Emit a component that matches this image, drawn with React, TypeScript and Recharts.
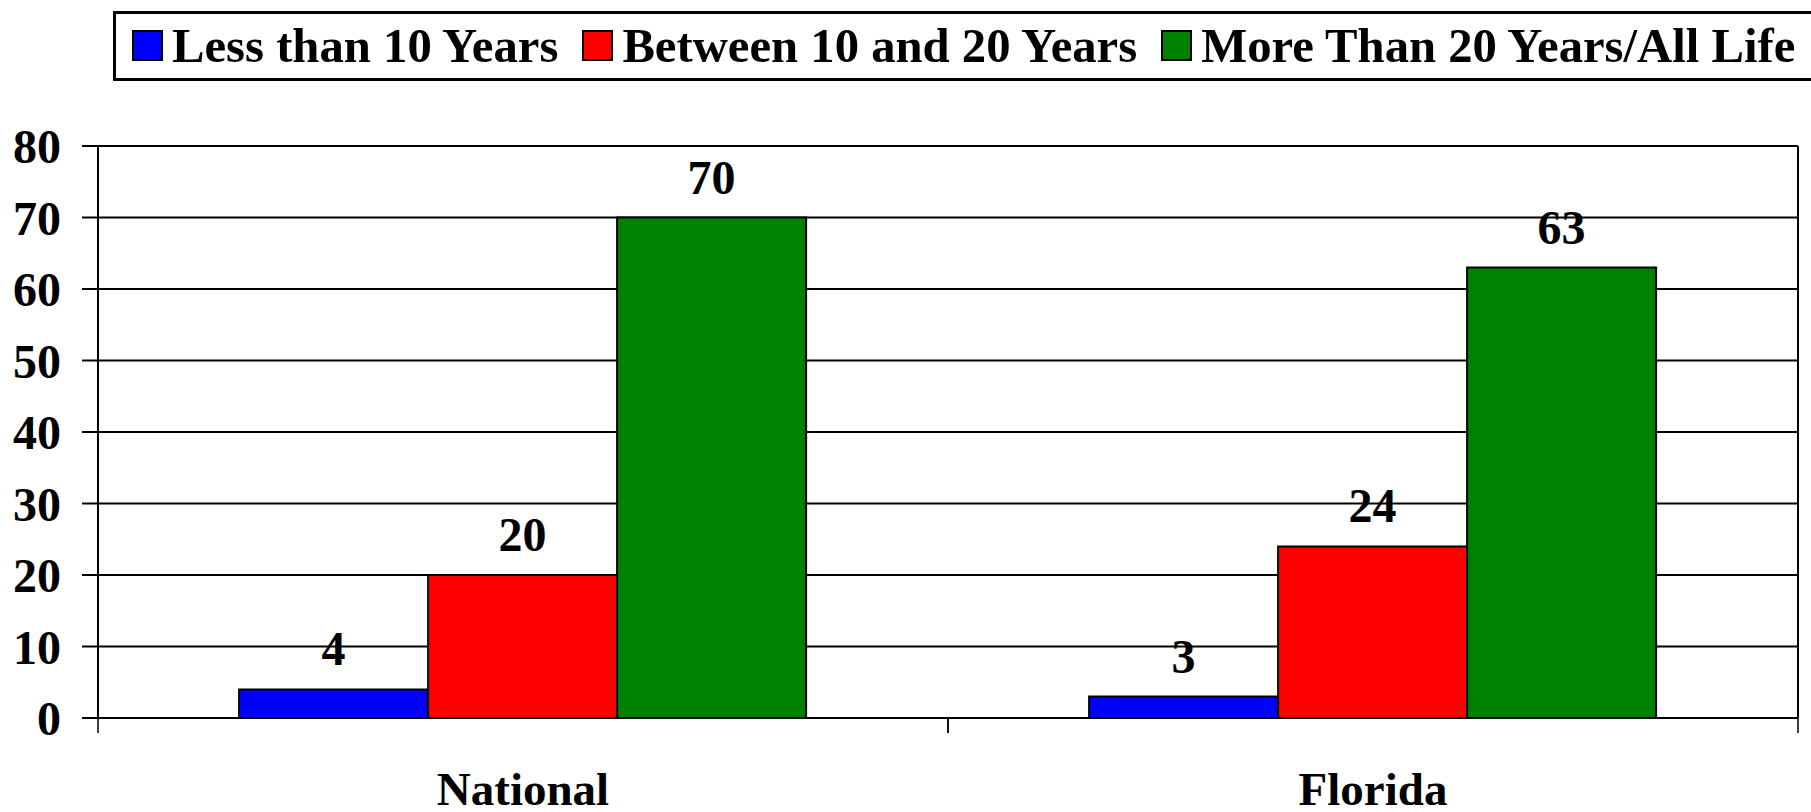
import React from 'react';
import { BarChart, Bar, XAxis, YAxis, CartesianGrid, Legend, LabelList } from 'recharts';

const categories = ['National', 'Florida'];
const lessThan10 = [4, 3];
const between10and20 = [20, 24];
const moreThan20 = [70, 63];
const yTicks = [0, 10, 20, 30, 40, 50, 60, 70, 80];
const seriesKeys = ['less', 'between', 'more'];
const seriesNames = ['Less than 10 Years', 'Between 10 and 20 Years', 'More Than 20 Years/All Life'];
const seriesColors = ['#0000FF', '#FF0000', '#008000'];

const data = categories.map((name, i) => ({
  name,
  less: lessThan10[i],
  between: between10and20[i],
  more: moreThan20[i],
}));

const FONT = '"Liberation Serif", "Times New Roman", serif';
const CAT_TICK_MARGIN = 54;
const EDGE_TICK_LEN = 15;

const renderLegend = () => (
  <div
    style={{
      display: 'flex',
      alignItems: 'center',
      height: 64,
      border: '3px solid #000',
      borderRight: 'none',
      paddingLeft: 16,
      fontFamily: FONT,
      fontWeight: 'bold',
      fontSize: 48.7,
      color: '#000',
      background: '#fff',
    }}
  >
    {seriesNames.map((n, i) => (
      <div key={n} style={{ display: 'flex', alignItems: 'center', marginRight: 24, flexShrink: 0 }}>
        <span
          style={{
            display: 'inline-block',
            width: 27,
            height: 27,
            background: seriesColors[i],
            border: '2px solid #000',
            marginRight: 9,
          }}
        />
        <span style={{ lineHeight: 1, whiteSpace: 'nowrap' }}>{n}</span>
      </div>
    ))}
  </div>
);

const CategoryTick = (props: any) => {
  const { x, y, payload, width, visibleTicksCount } = props;
  let half = 0;
  if (typeof width === 'number' && visibleTicksCount) half = width / visibleTicksCount / 2;
  else if (payload && typeof payload.offset === 'number') half = payload.offset;
  const axisY = y - CAT_TICK_MARGIN;
  return (
    <g>
      <line x1={x - half} x2={x - half} y1={axisY} y2={axisY + EDGE_TICK_LEN} stroke="#000" strokeWidth={1.5} />
      <line x1={x + half} x2={x + half} y1={axisY} y2={axisY + EDGE_TICK_LEN} stroke="#000" strokeWidth={1.5} />
      <text
        x={x}
        y={y}
        dy="0.71em"
        textAnchor="middle"
        fontFamily={FONT}
        fontWeight="bold"
        fontSize={47}
        fill="#000"
      >
        {payload.value}
      </text>
    </g>
  );
};

export default function App() {
  return (
    <div style={{ position: 'absolute', left: 0, top: 0, width: 1811, height: 812, overflow: 'hidden', background: '#fff' }}>
      <BarChart
        width={1811}
        height={812}
        data={data}
        margin={{ top: 146, right: 0, bottom: 0, left: 0 }}
        barCategoryGap="16.6%"
        barGap={0}
      >
        <CartesianGrid vertical={false} stroke="#000" strokeWidth={2} />
        <XAxis
          dataKey="name"
          height={94}
          tickLine={false}
          tickSize={0}
          tickMargin={CAT_TICK_MARGIN}
          axisLine={{ stroke: '#000', strokeWidth: 2 }}
          tick={<CategoryTick />}
        />
        <YAxis
          domain={[0, 80]}
          ticks={yTicks}
          width={98}
          tickSize={16}
          tickMargin={21}
          axisLine={{ stroke: '#000', strokeWidth: 2 }}
          tickLine={{ stroke: '#000', strokeWidth: 2 }}
          tick={{ fontFamily: FONT, fontWeight: 'bold', fontSize: 48, fill: '#000' }}
        />
        <YAxis
          yAxisId="r"
          orientation="right"
          domain={[0, 80]}
          width={13}
          tick={false}
          tickLine={false}
          axisLine={{ stroke: '#000', strokeWidth: 2 }}
        />
        <Legend
          content={renderLegend}
          verticalAlign="middle"
          align="center"
          wrapperStyle={{ top: 11, left: 113, width: 1720, margin: 0, padding: 0 }}
        />
        {seriesKeys.map((k, i) => (
          <Bar
            key={k}
            dataKey={k}
            name={seriesNames[i]}
            fill={seriesColors[i]}
            stroke="#000"
            strokeWidth={2}
            isAnimationActive={false}
          >
            <LabelList
              dataKey={k}
              position="top"
              offset={24}
              style={{ fontFamily: FONT, fontWeight: 'bold', fontSize: 48, fill: '#000' }}
            />
          </Bar>
        ))}
      </BarChart>
    </div>
  );
}
